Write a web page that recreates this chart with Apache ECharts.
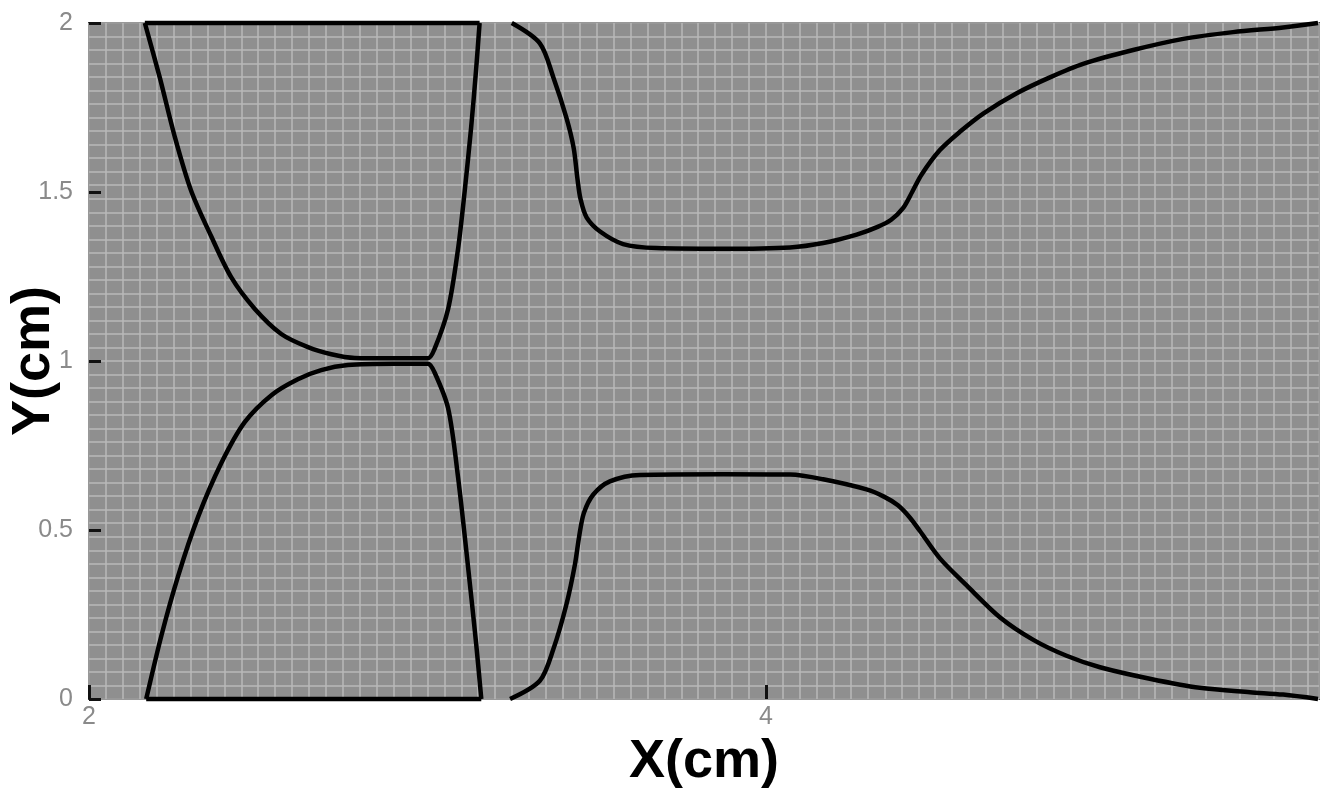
<!DOCTYPE html>
<html>
<head>
<meta charset="utf-8">
<script src="https://cdn.jsdelivr.net/npm/echarts@6/dist/echarts.min.js"></script>
<style>
html,body{margin:0;padding:0;background:#fff;}
#c{width:1337px;height:798px;}
</style>
</head>
<body>
<div id="c"></div>
<script>
// Axis ranges and tick labels
const xRange = [2, 5.634];
const yRange = [0, 2];
const xTickLabels = ['2', '4'];
const yTickLabels = ['0', '0.5', '1', '1.5', '2'];

// Curves, [x, y] in cm
const topEdge = [[2.165, 2.0], [3.154, 2.0]];
const bottomEdge = [[2.169, 0.0], [3.159, 0.0]];

const upperThroat = [
  [2.165, 2.0], [2.209, 1.839], [2.253, 1.665], [2.302, 1.503], [2.361, 1.369],
  [2.420, 1.248], [2.490, 1.154], [2.568, 1.080], [2.647, 1.041], [2.716, 1.020],
  [2.785, 1.009], [2.900, 1.008], [3.001, 1.008],
  [3.021, 1.036], [3.061, 1.154], [3.090, 1.329], [3.110, 1.503], [3.129, 1.691],
  [3.144, 1.866], [3.154, 2.0]
];

const lowerThroat = [
  [2.169, 0.0], [2.214, 0.188], [2.263, 0.363], [2.322, 0.538], [2.391, 0.698],
  [2.460, 0.819], [2.539, 0.899], [2.617, 0.946], [2.686, 0.973], [2.765, 0.988],
  [2.900, 0.992], [3.001, 0.992],
  [3.021, 0.966], [3.061, 0.860], [3.090, 0.659], [3.120, 0.390], [3.144, 0.162],
  [3.159, 0.0]
];

const upperWall = [
  [3.249, 2.0], [3.332, 1.940], [3.372, 1.839], [3.411, 1.718], [3.432, 1.630],
  [3.443, 1.540], [3.452, 1.480], [3.470, 1.425], [3.510, 1.383], [3.578, 1.346],
  [3.677, 1.334], [3.874, 1.332], [4.071, 1.336], [4.169, 1.349], [4.268, 1.374],
  [4.330, 1.397], [4.370, 1.418], [4.405, 1.452], [4.432, 1.500], [4.460, 1.552],
  [4.514, 1.624], [4.573, 1.678], [4.642, 1.732], [4.741, 1.792], [4.839, 1.839],
  [4.937, 1.879], [5.085, 1.920], [5.233, 1.953], [5.380, 1.973], [5.528, 1.987],
  [5.631, 2.0]
];

const lowerWall = [
  [3.244, 0.0], [3.332, 0.054], [3.372, 0.148], [3.411, 0.282], [3.436, 0.400],
  [3.448, 0.480], [3.462, 0.550], [3.490, 0.605], [3.539, 0.644], [3.628, 0.663],
  [3.874, 0.665], [4.071, 0.664], [4.169, 0.650], [4.297, 0.620], [4.350, 0.598],
  [4.390, 0.573], [4.425, 0.537], [4.455, 0.497], [4.514, 0.416], [4.593, 0.336],
  [4.691, 0.242], [4.790, 0.175], [4.888, 0.128], [4.987, 0.094], [5.134, 0.060],
  [5.282, 0.033], [5.430, 0.020], [5.528, 0.013], [5.631, 0.0]
];

const curves = [topEdge, bottomEdge, upperThroat, lowerThroat, upperWall, lowerWall];

const chart = echarts.init(document.getElementById('c'), null, {renderer: 'canvas'});
const labelFont = {fontFamily: 'Liberation Sans, Arial, sans-serif', fontSize: 25, color: '#8a8a8a'};
const nameFont = {fontFamily: 'Liberation Sans, Arial, sans-serif', fontSize: 54, fontWeight: 'bold', color: '#000'};

chart.setOption({
  animation: false,
  backgroundColor: '#ffffff',
  grid: {
    left: 89, top: 23, right: 18, bottom: 99,
    outerBoundsMode: 'none',
    show: true, backgroundColor: '#8f8f8f', borderColor: '#3a3a3a', borderWidth: 2,
    containLabel: false
  },
  xAxis: [
    {
      type: 'value', min: xRange[0], max: xRange[1], interval: 2,
      position: 'bottom',
      axisLine: {show: false},
      axisTick: {show: true, inside: true, length: 14, lineStyle: {color: '#111', width: 3}},
      splitLine: {show: false},
      axisLabel: Object.assign({
        margin: 6, showMaxLabel: false,
        formatter: v => { const s = String(Math.round(v * 1000) / 1000); return xTickLabels.includes(s) ? s : ''; }
      }, labelFont),
      name: 'X(cm)', nameLocation: 'middle', nameGap: 30,
      nameTextStyle: nameFont
    },
    {
      type: 'value', min: xRange[0], max: xRange[1], interval: 0.05,
      position: 'top', axisLine: {show: false}, axisTick: {show: false}, axisLabel: {show: false},
      splitLine: {show: true, lineStyle: {color: '#b8b8b8', width: 1.5}}
    }
  ],
  yAxis: [
    {
      type: 'value', min: yRange[0], max: yRange[1], interval: 0.5,
      position: 'left',
      axisLine: {show: false},
      axisTick: {show: true, inside: true, length: 12, lineStyle: {color: '#111', width: 3}},
      splitLine: {show: false},
      axisLabel: Object.assign({
        margin: 16,
        formatter: v => { const s = String(Math.round(v * 1000) / 1000); return yTickLabels.includes(s) ? s : ''; }
      }, labelFont),
      name: 'Y(cm)', nameLocation: 'middle', nameGap: 28, nameRotate: 90,
      nameMoveOverlap: false,
      nameTextStyle: nameFont
    },
    {
      type: 'value', min: yRange[0], max: yRange[1], interval: 0.04,
      position: 'right', axisLine: {show: false}, axisTick: {show: false}, axisLabel: {show: false},
      splitLine: {show: true, lineStyle: {color: '#b8b8b8', width: 1.5}}
    }
  ],
  series: curves.map(d => ({
    type: 'line', xAxisIndex: 0, yAxisIndex: 0, data: d,
    showSymbol: false, symbol: 'none', smooth: 0.3, clip: false,
    lineStyle: {color: '#000', width: 4.5}
  }))
});
</script>
</body>
</html>
